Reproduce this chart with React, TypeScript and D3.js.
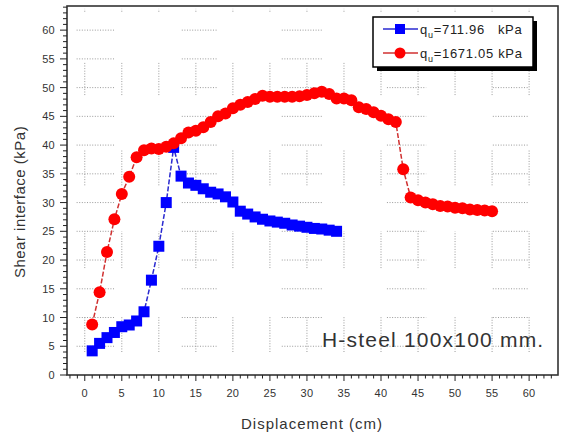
import * as d3 from 'd3';

// displacement (cm) and shear interface (kPa)
const blueX = d3.range(1, 35);
const blueY = [4.2, 5.5, 6.5, 7.4, 8.4, 8.7, 9.4, 11.0, 16.5, 22.4, 30.0, 39.6, 34.6, 33.4, 33.0, 32.4, 31.8,
  31.5, 31.0, 30.1, 28.5, 28.0, 27.5, 27.1, 26.8, 26.6, 26.4, 26.1, 25.9, 25.7, 25.5, 25.4, 25.2, 25.0];
const redX = d3.range(1, 56);
const redY = [8.8, 14.4, 21.4, 27.1, 31.5, 34.5, 37.9, 39.1, 39.4, 39.3, 39.7, 40.3, 41.2, 42.2, 42.5, 43.1,
  44.0, 45.0, 45.5, 46.4, 47.0, 47.5, 48.0, 48.6, 48.4, 48.4, 48.4, 48.4, 48.5, 48.7, 49.0, 49.3, 48.9, 48.1,
  48.1, 47.8, 46.6, 46.3, 45.7, 45.1, 44.5, 44.0, 35.8, 30.9, 30.4, 30.0, 29.7, 29.4, 29.3, 29.1, 29.0, 28.8,
  28.7, 28.6, 28.5];
const xTicks = d3.range(0, 61, 5);
const yTicks = d3.range(0, 61, 5);
const seriesNames = ['=711.96   kPa', '=1671.05 kPa'];
const note = 'H-steel 100x100 mm.';

// the old export's broken dotted grid
const gridXSpans = [[-1.1, 4.05], [13.1, 17.8], [26.6, 32.0], [40.8, 46.1], [55.1, 59.9]];
const gridYSpans = [[4.0, 10.1], [18.6, 25.0], [33.0, 39.1], [48.7, 54.3], [63.2, 63.7]];

const W = 561, H = 434;
const m = { left: 67, right: 558, top: 6, bottom: 375 };

export default function App() {
  const x = d3.scaleLinear().domain([-2.4, 63.9]).range([m.left, m.right]);
  const y = d3.scaleLinear().domain([0, 64.2]).range([m.bottom, m.top]);
  const line = d3.line<[number, number]>().x(d => x(d[0])).y(d => y(d[1]));
  const blue = blueX.map((v, i) => [v, blueY[i]] as [number, number]);
  const red = redX.map((v, i) => [v, redY[i]] as [number, number]);
  const minorX = d3.range(-2, 64, 1);
  const minorY = d3.range(0, 65, 1);
  const font = 'Arial, "Liberation Sans", sans-serif';

  return (
    <svg width={W} height={H} style={{ position: 'absolute', left: 0, top: 0, background: '#fff' }} fontFamily={font}>
      <g stroke="#9a9a9a" strokeWidth={1} strokeDasharray="1,1.6">
        {yTicks.filter(t => t > 0).map(t => gridXSpans.map((s, j) => (
          <line key={`h${t}-${j}`} x1={x(s[0])} x2={x(s[1])} y1={y(t)} y2={y(t)} />
        )))}
        {xTicks.map(t => gridYSpans.map((s, j) => (
          <line key={`v${t}-${j}`} x1={x(t)} x2={x(t)} y1={y(s[0])} y2={y(s[1])} />
        )))}
      </g>

      {/* frame */}
      <rect x={m.left} y={m.top} width={m.right - m.left} height={m.bottom - m.top} fill="none" stroke="#333" strokeWidth={1.6} />

      {/* ticks */}
      <g stroke="#222" strokeWidth={1}>
        {minorX.map(t => (
          <line key={`xm${t}`} x1={x(t)} x2={x(t)} y1={m.bottom} y2={m.bottom + (t % 5 === 0 ? 6 : 3.5)} />
        ))}
        {minorY.map(t => (
          <line key={`ym${t}`} x1={m.left} x2={m.left - (t % 5 === 0 ? 7 : 4)} y1={y(t)} y2={y(t)} />
        ))}
      </g>
      <g fontSize={11} fill="#333" letterSpacing={0.3}>
        {xTicks.map(t => (
          <text key={`xl${t}`} x={x(t)} y={m.bottom + 22} textAnchor="middle">{t}</text>
        ))}
        {yTicks.map(t => (
          <text key={`yl${t}`} x={m.left - 12} y={y(t) + 4} textAnchor="end">{t}</text>
        ))}
      </g>
      <text x={312} y={429} textAnchor="middle" fontSize={15} fill="#333" letterSpacing={1}>Displacement (cm)</text>
      <text transform="translate(25,202) rotate(-90)" textAnchor="middle" fontSize={15} fill="#333" letterSpacing={0.5}>Shear interface (kPa)</text>

      {/* series */}
      <path d={line(blue) || ''} fill="none" stroke="#2a2ad0" strokeWidth={1.5} strokeDasharray="5,2" />
      {blue.map((d, i) => (
        <rect key={`b${i}`} x={x(d[0]) - 5.5} y={y(d[1]) - 5.5} width={11} height={11} fill="#0000ff" />
      ))}
      <path d={line(red) || ''} fill="none" stroke="#d03030" strokeWidth={1.5} strokeDasharray="5,2" />
      {red.map((d, i) => (
        <circle key={`r${i}`} cx={x(d[0])} cy={y(d[1])} r={6} fill="#ff0000" />
      ))}

      {/* legend */}
      <rect x={377} y={21} width={160} height={50} fill="#000" />
      <rect x={373} y={17} width={160} height={50} fill="#fff" stroke="#000" strokeWidth={1.5} />
      {seriesNames.map((s, i) => {
        const ly = 29 + i * 24;
        return (
          <g key={`lg${i}`}>
            <line x1={383} x2={418} y1={ly} y2={ly} stroke={i === 0 ? '#2a2ad0' : '#d03030'} strokeWidth={1.5} />
            {i === 0
              ? <rect x={395} y={ly - 5} width={10} height={10} fill="#0000ff" />
              : <circle cx={400} cy={ly} r={5.5} fill="#ff0000" />}
            <text x={420} y={ly + 5} fontSize={13} fill="#222" letterSpacing={0.7} style={{ whiteSpace: 'pre' }}>
              q<tspan fontSize={9} dy={4}>u</tspan><tspan dy={-4}>{s}</tspan>
            </text>
          </g>
        );
      })}

      <text x={322} y={347} fontSize={21} fill="#333" letterSpacing={1.2}>{note}</text>
    </svg>
  );
}
